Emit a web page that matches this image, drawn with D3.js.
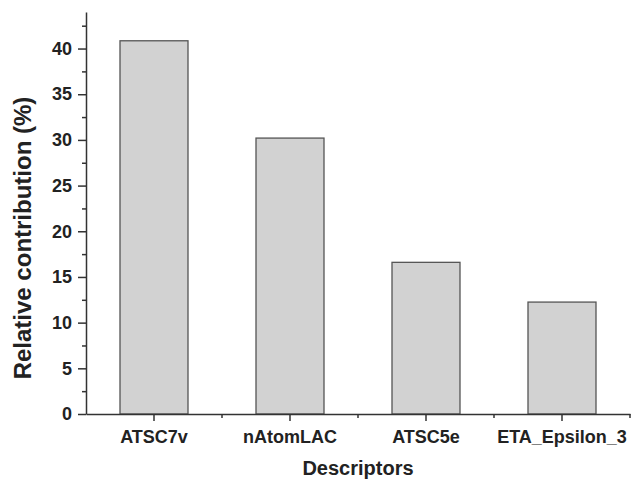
<!DOCTYPE html>
<html>
<head>
<meta charset="utf-8">
<script src="https://cdn.jsdelivr.net/npm/d3@7"></script>
<style>
  body { margin: 0; background: #fff; }
  text { font-family: "Liberation Sans", Arial, sans-serif; font-weight: bold; fill: #222; }
</style>
</head>
<body>
<svg width="632" height="480"></svg>
<script>
// data
const categories = ["ATSC7v", "nAtomLAC", "ATSC5e", "ETA_Epsilon_3"];
const contribution = [40.85, 30.2, 16.6, 12.25];
const yTicks = [0, 5, 10, 15, 20, 25, 30, 35, 40];
const yMinor = [2.5, 7.5, 12.5, 17.5, 22.5, 27.5, 32.5, 37.5, 42.5];

const svg = d3.select("svg");
const plotLeft = 86, plotRight = 630, plotTop = 12, plotBottom = 414;

const x = d3.scaleBand().domain(categories).range([plotLeft, plotRight]).paddingInner(0.5).paddingOuter(0.25);
const y = d3.scaleLinear().domain([0, 44]).range([plotBottom, plotTop]);

// bars
svg.append("g").selectAll("rect")
  .data(categories)
  .enter().append("rect")
  .attr("x", d => x(d))
  .attr("y", (d, i) => y(contribution[i]))
  .attr("width", x.bandwidth())
  .attr("height", (d, i) => y(0) - y(contribution[i]))
  .attr("fill", "#d2d2d2")
  .attr("stroke", "#555")
  .attr("stroke-width", 1.3);

// y axis
const yAxis = svg.append("g").attr("transform", `translate(${plotLeft},0)`)
  .call(d3.axisLeft(y).tickValues(yTicks).tickSize(8).tickPadding(6).tickSizeOuter(0));
svg.append("g").attr("transform", `translate(${plotLeft},0)`)
  .call(d3.axisLeft(y).tickValues(yMinor).tickSize(4).tickFormat("").tickSizeOuter(0))
  .select(".domain").remove();

// x axis
const xAxis = svg.append("g").attr("transform", `translate(0,${plotBottom})`)
  .call(d3.axisBottom(x).tickSize(7).tickPadding(9).tickSizeOuter(0));
const bounds = [1, 2, 3, 4].map(i => plotLeft + i * x.step());
svg.append("g").selectAll("line")
  .data(bounds)
  .enter().append("line")
  .attr("x1", d => d).attr("x2", d => d)
  .attr("y1", plotBottom).attr("y2", plotBottom + 4)
  .attr("stroke", "#333").attr("stroke-width", 1.5);

svg.selectAll(".domain, .tick line").attr("stroke", "#333").attr("stroke-width", 1.5);
svg.selectAll(".tick text").attr("font-size", 18).attr("fill", "#222");

// titles
svg.append("text")
  .attr("x", 358).attr("y", 475)
  .attr("text-anchor", "middle").attr("font-size", 20)
  .text("Descriptors");
svg.append("text")
  .attr("transform", `translate(31,238) rotate(-90)`)
  .attr("text-anchor", "middle").attr("font-size", 24)
  .text("Relative contribution (%)");
</script>
</body>
</html>
